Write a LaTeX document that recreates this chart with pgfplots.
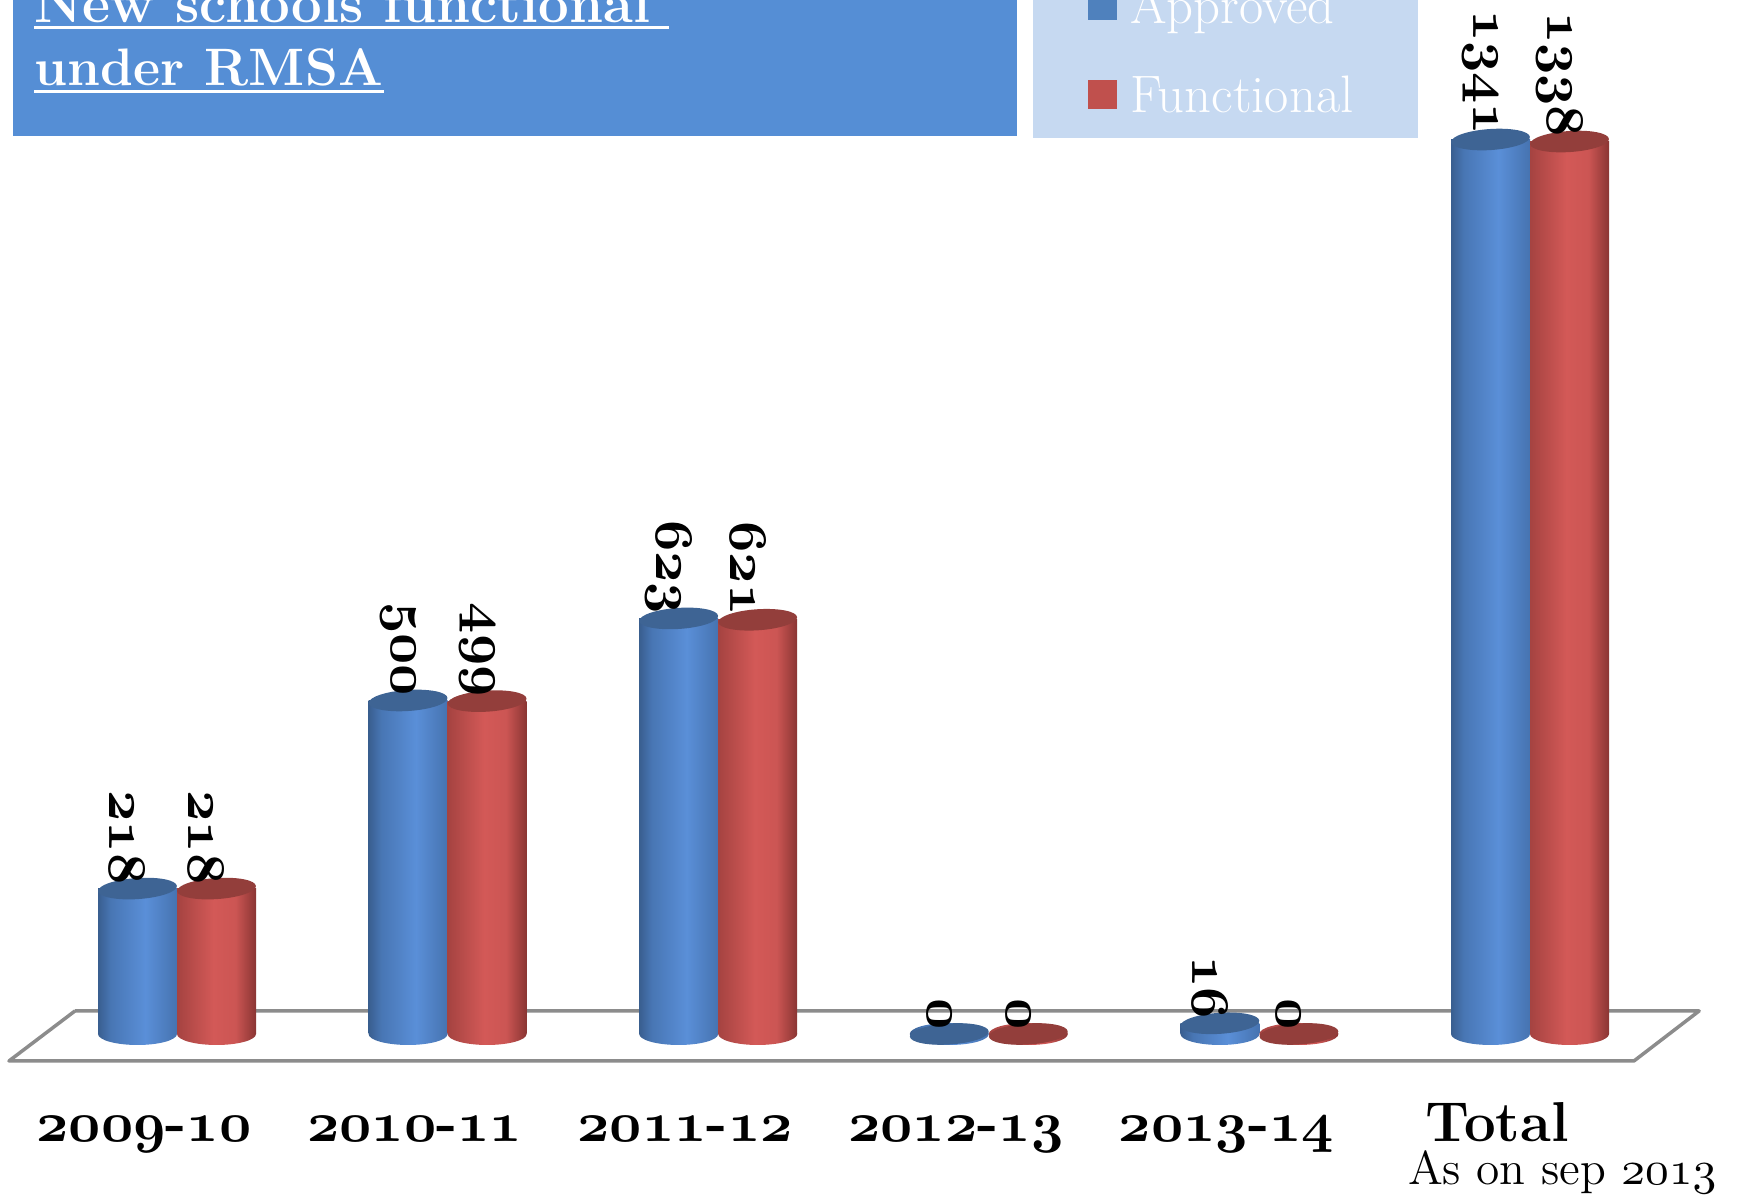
\documentclass[border=0pt]{standalone}
\usepackage{pgfplots}
\pgfplotsset{compat=1.18}
\usepackage{pgfplotstable}

\definecolor{titleblue}{HTML}{558ED5}
\definecolor{legbg}{HTML}{C6D9F1}
\definecolor{bDark}{HTML}{395E8F}
\definecolor{bMid}{HTML}{4876B4}
\definecolor{bLight}{HTML}{5A8FD8}
\definecolor{bRight}{HTML}{4673B0}
\definecolor{rLeft}{HTML}{A54341}
\definecolor{rLight}{HTML}{D35957}
\definecolor{rDark}{HTML}{8A3533}
\definecolor{bTop}{HTML}{3E6494}
\definecolor{rTop}{HTML}{933E3B}
\definecolor{legB}{HTML}{4F81BD}
\definecolor{legR}{HTML}{C0504D}
\definecolor{floorgray}{HTML}{8C8C8C}

\pgfdeclarehorizontalshading{bluecyl}{100bp}{color(0bp)=(bDark); color(25bp)=(bDark); color(33bp)=(bMid); color(55bp)=(bLight); color(75bp)=(bRight); color(100bp)=(bRight)}
\pgfdeclarehorizontalshading{redcyl}{100bp}{color(0bp)=(rLeft); color(25bp)=(rLeft); color(48bp)=(rLight); color(62bp)=(rLight!90!rDark); color(75bp)=(rDark); color(100bp)=(rDark)}

\pgfdeclareplotmark{cyltop}{\pgfpathellipse{\pgfpointorigin}{\pgfpoint{0.394cm}{0.026cm}}{\pgfpoint{-0.007cm}{0.105cm}}\pgfusepathqfill}
\pgfdeclareplotmark{cylbotB}{\pgfpathellipse{\pgfpointorigin}{\pgfpoint{0.395cm}{0cm}}{\pgfpoint{0cm}{0.11cm}}\pgfshadepath{bluecyl}{0}\pgfusepath{discard}}
\pgfdeclareplotmark{cylbotR}{\pgfpathellipse{\pgfpointorigin}{\pgfpoint{0.395cm}{0cm}}{\pgfpoint{0cm}{0.11cm}}\pgfshadepath{redcyl}{0}\pgfusepath{discard}}

\DeclareFontFamily{OML}{myosf}{\skewchar\font'177}
\DeclareFontShape{OML}{myosf}{b}{it}{<->cmmib10}{}
\DeclareFontShape{OML}{myosf}{m}{it}{<->cmmi10}{}
\newcommand\osfB{\fontencoding{OML}\fontfamily{myosf}\fontseries{b}\fontshape{it}\selectfont}
\newcommand\osfM{\fontencoding{OML}\fontfamily{myosf}\fontseries{m}\fontshape{it}\selectfont}

\pgfplotstableread{
x approved functional
0 218 218
1 500 499
2 623 621
3 0 0
4 16 0
5 1341 1338
}\datatable

\newcommand\cylB[2]{\addplot[ybar, bar width=0.79cm, bar shift=-0.395cm, draw=none, shading=bluecyl] coordinates {(#1,#2)};}
\newcommand\cylR[2]{\addplot[ybar, bar width=0.79cm, bar shift=0.395cm, draw=none, shading=redcyl] coordinates {(#1,#2)};}

\begin{document}
\begin{tikzpicture}
\useasboundingbox (0,0) rectangle (17.39cm,11.96cm);
\clip (0,0) rectangle (17.39cm,11.96cm);
% title box and legend box
\fill[titleblue] (0.13cm,10.60cm) rectangle (10.17cm,12.5cm);
\fill[legbg] (10.33cm,10.58cm) rectangle (14.18cm,12.5cm);
\node[anchor=base west, inner sep=0pt, text=white, font=\fontsize{15.5}{18}\selectfont\bfseries] (t1) at (0.34cm,11.73cm) {New schools functional};
\node[anchor=base west, inner sep=0pt, text=white, font=\fontsize{15}{18}\selectfont\bfseries] (t2) at (0.34cm,11.10cm) {under RMSA};
\draw[white, line width=0.033cm] ([yshift=-0.045cm]t1.base west) -- ([yshift=-0.045cm,xshift=0.18cm]t1.base east);
\draw[white, line width=0.033cm] ([yshift=-0.055cm]t2.base west) -- ([yshift=-0.055cm]t2.base east);

\begin{axis}[
  at={(0.417cm,1.22cm)}, anchor=south west,
  scale only axis, width=16.236cm, height=10.405cm,
  xmin=-0.5, xmax=5.5, ymin=-60, ymax=1500,
  clip=false,
  axis line style={draw=none},
  major tick length=0pt,
  ytick=\empty,
  xtick={0,1,2,3,4,5},
  xticklabels={{{\osfB 2009}-{\osfB 10}},{{\osfB 2010}-{\osfB 11}},{{\osfB 2011}-{\osfB 12}},{{\osfB 2012}-{\osfB 13}},{{\osfB 2013}-{\osfB 14}},{Total}},
  xticklabel style={font=\fontsize{16}{19}\selectfont\bfseries, anchor=base, xshift=-0.33cm, yshift=-0.68cm, inner sep=0pt},
  legend style={draw=none, fill=none, inner sep=0pt, at={(0.6438,0.9164)}, anchor=south west,
    font=\fontsize{15}{18}\selectfont, text=white, row sep=0.49cm, column sep=0.13cm,
    nodes={inner sep=0pt, text depth=0.2em, text height=0.85em}},
  legend cell align=left,
]
\addlegendimage{legend image code/.code={\fill[legB] (0cm,-0.07cm) rectangle (0.28cm,0.21cm);}}
\addlegendentry{Approved}
\addlegendimage{legend image code/.code={\fill[legR] (0cm,-0.07cm) rectangle (0.28cm,0.21cm);}}
\addlegendentry{Functional}

% floor
\addplot[draw=floorgray, line width=0.035cm, line join=round] coordinates {(-0.377,34.5) (5.625,34.5) (5.384,-40.5) (-0.621,-40.5) (-0.377,34.5)};

% bottom ellipses
\addplot[only marks, mark=cylbotB] table[x expr=\thisrow{x}-0.146, y expr=0] {\datatable};
\addplot[only marks, mark=cylbotR] table[x expr=\thisrow{x}+0.146, y expr=0] {\datatable};

% bars
\cylB{0}{218} \cylR{0}{218}
\cylB{1}{500} \cylR{1}{499}
\cylB{2}{623} \cylR{2}{621}
\cylB{4}{16}
\cylB{5}{1341} \cylR{5}{1338}

% tops with labels
\addplot[only marks, mark=cyltop, mark options={fill=bTop, draw=none},
  point meta=explicit symbolic, nodes near coords={\osfB\pgfplotspointmeta},
  nodes near coords style={font=\fontsize{15.5}{18}\selectfont, text=black, xshift=-0.10cm, yshift=0.035cm, rotate=-90, anchor=east, inner sep=0pt}]
  table[x expr=\thisrow{x}-0.146, y=approved, meta=approved] {\datatable};
\addplot[only marks, mark=cyltop, mark options={fill=rTop, draw=none},
  point meta=explicit symbolic, nodes near coords={\osfB\pgfplotspointmeta},
  nodes near coords style={font=\fontsize{15.5}{18}\selectfont, text=black, xshift=-0.10cm, yshift=0.035cm, rotate=-90, anchor=east, inner sep=0pt}]
  table[x expr=\thisrow{x}+0.146, y=functional, meta=functional] {\datatable};
\end{axis}

\node[anchor=base east, inner sep=0pt, font=\fontsize{13.5}{16}\selectfont] at (17.17cm,0.11cm) {As on sep {\osfM 2013}};
\end{tikzpicture}
\end{document}
